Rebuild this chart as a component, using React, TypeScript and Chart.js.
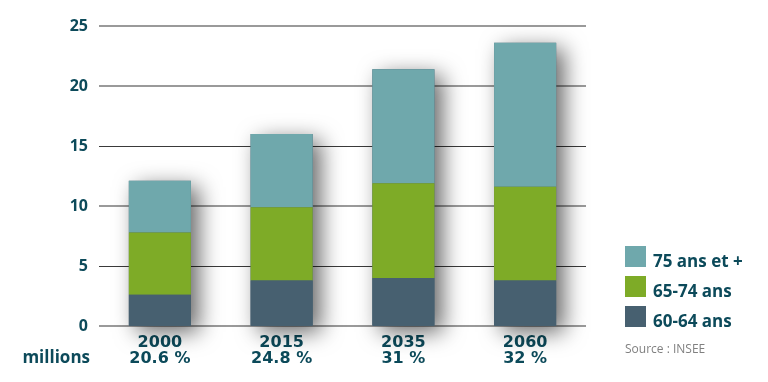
import React, { useEffect, useRef } from "react";
import { Chart, registerables } from "chart.js";

Chart.register(...registerables);

const years = ["2000", "2015", "2035", "2060"];
const shares = ["20.6 %", "24.8 %", "31 %", "32 %"];
const age6064 = [2.6, 3.8, 4.0, 3.8];
const age6574 = [5.2, 6.1, 7.9, 7.8];
const age75plus = [4.3, 6.1, 9.5, 12.0];
const seriesNames = ["60-64 ans", "65-74 ans", "75 ans et +"];
const seriesColors = ["#476070", "#7eab27", "#6fa8ac"];
const yTicks = [0, 5, 10, 15, 20, 25];
const unitLabel = "millions";
const sourceLabel = "Source : INSEE";

const TEXT = "#0c4a5a";
const FONT = "'Open Sans', 'DejaVu Sans', sans-serif";
const XFONT = "'DejaVu Sans', sans-serif";

const shadowPlugin = {
  id: "stackShadow",
  beforeDatasetsDraw(chart: any) {
    const ctx = chart.ctx;
    const last = chart.getDatasetMeta(chart.data.datasets.length - 1);
    const y0 = chart.scales.y.getPixelForValue(0);
    ctx.save();
    ctx.shadowColor = "rgba(0,0,0,0.6)";
    ctx.shadowBlur = 22;
    ctx.shadowOffsetX = 8;
    ctx.shadowOffsetY = 6;
    ctx.fillStyle = "#476070";
    last.data.forEach((bar: any) => {
      const w = bar.width;
      ctx.fillRect(bar.x - w / 2, bar.y, w, y0 - bar.y);
    });
    ctx.restore();
  },
};

const extrasPlugin = {
  id: "extras",
  afterDraw(chart: any) {
    const ctx = chart.ctx;
    ctx.save();
    const boxX = 625;
    const rows = [246, 276, 306];
    for (let i = 0; i < 3; i++) {
      const idx = 2 - i;
      ctx.fillStyle = seriesColors[idx];
      ctx.fillRect(boxX, rows[i], 21, 21);
      ctx.fillStyle = TEXT;
      ctx.font = `bold 17px ${FONT}`;
      ctx.textAlign = "left";
      ctx.textBaseline = "alphabetic";
      ctx.fillText(seriesNames[idx], 653, rows[i] + 21);
    }
    ctx.fillStyle = "#808080";
    ctx.font = `12px ${FONT}`;
    ctx.fillText(sourceLabel, 625, 353);
    ctx.fillStyle = TEXT;
    ctx.font = `bold 17px ${FONT}`;
    ctx.textAlign = "right";
    ctx.fillText(unitLabel, 90, 363);
    ctx.restore();
  },
};

export default function App() {
  const ref = useRef<HTMLCanvasElement>(null);
  useEffect(() => {
    if (!ref.current) return;
    const labels = years.map((y, i) => [y, shares[i]]);
    const data = [age6064, age6574, age75plus];
    const chart = new Chart(ref.current, {
      type: "bar",
      data: {
        labels,
        datasets: data.map((d, i) => ({
          label: seriesNames[i],
          data: d,
          backgroundColor: seriesColors[i],
          borderWidth: 0,
          barPercentage: 0.51,
          categoryPercentage: 1,
        })),
      },
      options: {
        responsive: false,
        animation: false,
        layout: { padding: { left: 0, right: 182, top: 26, bottom: 0 } },
        plugins: { legend: { display: false }, tooltip: { enabled: false } },
        scales: {
          x: {
            stacked: true,
            grid: { display: false, drawTicks: false },
            border: { display: false },
            ticks: {
              color: TEXT,
              font: { family: XFONT, size: 16, weight: "bold", lineHeight: 1.0 },
              padding: 9,
              maxRotation: 0,
            },
            afterFit(scale: any) {
              scale.height = 56;
            },
          },
          y: {
            stacked: true,
            min: 0,
            max: 25,
            afterBuildTicks(scale: any) {
              scale.ticks = yTicks.map((v) => ({ value: v }));
            },
            border: { display: false },
            grid: {
              drawTicks: false,
              color: (c: any) => (c.tick && (c.tick.value === 5 || c.tick.value === 15) ? "#3a3a3a" : "#9a9a9a"),
              lineWidth: (c: any) => (c.tick && (c.tick.value === 5 || c.tick.value === 15) ? 1 : 2),
            },
            ticks: {
              color: TEXT,
              font: { family: FONT, size: 16, weight: "bold" },
              padding: 11,
            },
            afterFit(scale: any) {
              scale.width = 99;
            },
          },
        },
      },
      plugins: [shadowPlugin, extrasPlugin],
    } as any);
    return () => chart.destroy();
  }, []);
  return (
    <div style={{ position: "fixed", left: 0, top: 0, width: 768, height: 382, background: "#fff" }}>
      <canvas ref={ref} width={768} height={382} style={{ display: "block" }} />
    </div>
  );
}
